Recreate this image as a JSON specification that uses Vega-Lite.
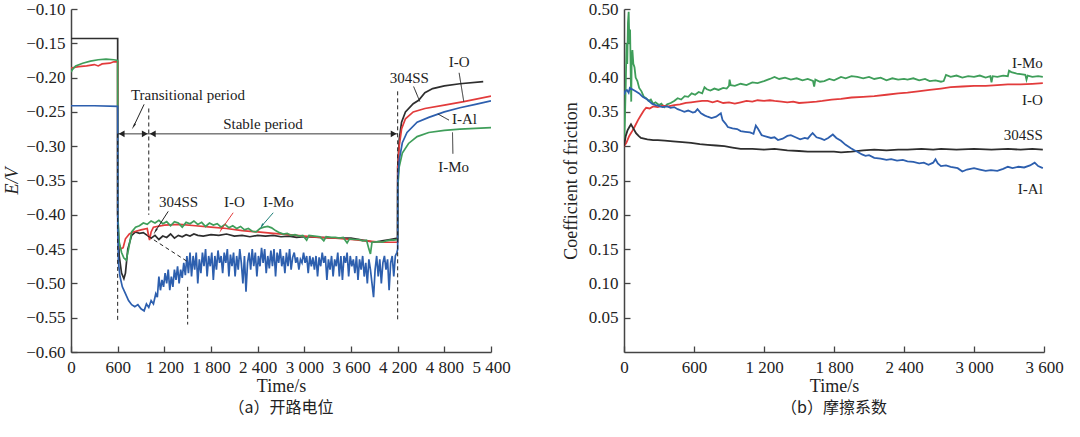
{
  "$schema": "https://vega.github.io/schema/vega-lite/v6.json",
  "padding": {"left": 3, "top": 0, "right": 0, "bottom": 20},
  "background": "white",
  "bounds": "flush",
  "spacing": 133,
  "config": {
    "view": {"stroke": null},
    "axis": {
      "grid": false, "domainColor": "#444", "tickColor": "#444", "domainWidth": 1.5, "tickWidth": 1.3,
      "labelFont": "Liberation Serif", "titleFont": "Liberation Serif", "labelFontSize": 17, "titleFontSize": 18,
      "labelColor": "#222", "titleColor": "#222", "titleFontWeight": "normal", "tickSize": -6,
      "labelFlush": false, "labelOverlap": false, "labelBound": false
    },
    "axisX": {"labelPadding": 13, "titlePadding": 2},
    "axisY": {"labelPadding": 12},
    "title": {"font": "Noto Sans CJK SC", "fontSize": 16, "fontWeight": "normal", "color": "#222", "orient": "bottom", "offset": 5},
    "text": {"font": "Liberation Serif", "fontSize": 15, "color": "#222"}
  },
  "datasets": {
    "ocp": [
      {"t": 0, "v": -0.143, "s": "304SS"}, {"t": 600, "v": -0.143, "s": "304SS"}, {"t": 601, "v": -0.40, "s": "304SS"},
      {"t": 620, "v": -0.46, "s": "304SS"}, {"t": 650, "v": -0.485, "s": "304SS"}, {"t": 680, "v": -0.493, "s": "304SS"},
      {"t": 700, "v": -0.485, "s": "304SS"}, {"t": 730, "v": -0.45, "s": "304SS"}, {"t": 780, "v": -0.43, "s": "304SS"},
      {"t": 830, "v": -0.425, "s": "304SS"}, {"t": 880, "v": -0.427, "s": "304SS"}, {"t": 930, "v": -0.426, "s": "304SS"},
      {"t": 980, "v": -0.43, "s": "304SS"}, {"t": 1030, "v": -0.434, "s": "304SS"}, {"t": 1080, "v": -0.43, "s": "304SS"},
      {"t": 1130, "v": -0.436, "s": "304SS"}, {"t": 1180, "v": -0.431, "s": "304SS"}, {"t": 1230, "v": -0.433, "s": "304SS"},
      {"t": 1280, "v": -0.428, "s": "304SS"}, {"t": 1330, "v": -0.434, "s": "304SS"}, {"t": 1380, "v": -0.43, "s": "304SS"},
      {"t": 1430, "v": -0.432, "s": "304SS"}, {"t": 1480, "v": -0.429, "s": "304SS"}, {"t": 1530, "v": -0.431, "s": "304SS"},
      {"t": 1580, "v": -0.428, "s": "304SS"}, {"t": 1630, "v": -0.43, "s": "304SS"}, {"t": 1700, "v": -0.431, "s": "304SS"},
      {"t": 1800, "v": -0.429, "s": "304SS"}, {"t": 1900, "v": -0.43, "s": "304SS"}, {"t": 2000, "v": -0.428, "s": "304SS"},
      {"t": 2100, "v": -0.431, "s": "304SS"}, {"t": 2200, "v": -0.43, "s": "304SS"}, {"t": 2300, "v": -0.432, "s": "304SS"},
      {"t": 2400, "v": -0.43, "s": "304SS"}, {"t": 2500, "v": -0.431, "s": "304SS"}, {"t": 2600, "v": -0.43, "s": "304SS"},
      {"t": 2700, "v": -0.432, "s": "304SS"}, {"t": 2800, "v": -0.431, "s": "304SS"}, {"t": 2900, "v": -0.433, "s": "304SS"},
      {"t": 3000, "v": -0.432, "s": "304SS"}, {"t": 3200, "v": -0.433, "s": "304SS"}, {"t": 3400, "v": -0.434, "s": "304SS"},
      {"t": 3600, "v": -0.434, "s": "304SS"}, {"t": 3800, "v": -0.438, "s": "304SS"}, {"t": 3900, "v": -0.44, "s": "304SS"},
      {"t": 4000, "v": -0.438, "s": "304SS"}, {"t": 4100, "v": -0.436, "s": "304SS"}, {"t": 4200, "v": -0.434, "s": "304SS"},
      {"t": 4201, "v": -0.33, "s": "304SS"}, {"t": 4220, "v": -0.29, "s": "304SS"}, {"t": 4250, "v": -0.265, "s": "304SS"},
      {"t": 4300, "v": -0.25, "s": "304SS"}, {"t": 4400, "v": -0.238, "s": "304SS"}, {"t": 4470, "v": -0.233, "s": "304SS"},
      {"t": 4550, "v": -0.222, "s": "304SS"}, {"t": 4650, "v": -0.216, "s": "304SS"}, {"t": 4800, "v": -0.212, "s": "304SS"},
      {"t": 5000, "v": -0.209, "s": "304SS"}, {"t": 5300, "v": -0.206, "s": "304SS"},

      {"t": 0, "v": -0.186, "s": "I-O"}, {"t": 100, "v": -0.184, "s": "I-O"}, {"t": 200, "v": -0.183, "s": "I-O"},
      {"t": 300, "v": -0.181, "s": "I-O"}, {"t": 350, "v": -0.183, "s": "I-O"}, {"t": 400, "v": -0.180, "s": "I-O"},
      {"t": 500, "v": -0.179, "s": "I-O"}, {"t": 550, "v": -0.177, "s": "I-O"}, {"t": 600, "v": -0.177, "s": "I-O"},
      {"t": 601, "v": -0.40, "s": "I-O"}, {"t": 610, "v": -0.44, "s": "I-O"}, {"t": 640, "v": -0.45, "s": "I-O"},
      {"t": 670, "v": -0.448, "s": "I-O"}, {"t": 700, "v": -0.435, "s": "I-O"}, {"t": 750, "v": -0.428, "s": "I-O"},
      {"t": 800, "v": -0.425, "s": "I-O"}, {"t": 900, "v": -0.422, "s": "I-O"}, {"t": 980, "v": -0.42, "s": "I-O"},
      {"t": 1000, "v": -0.432, "s": "I-O"}, {"t": 1010, "v": -0.437, "s": "I-O"}, {"t": 1030, "v": -0.425, "s": "I-O"},
      {"t": 1060, "v": -0.418, "s": "I-O"}, {"t": 1200, "v": -0.415, "s": "I-O"}, {"t": 1400, "v": -0.414, "s": "I-O"},
      {"t": 1600, "v": -0.416, "s": "I-O"}, {"t": 1800, "v": -0.418, "s": "I-O"}, {"t": 2000, "v": -0.42, "s": "I-O"},
      {"t": 2200, "v": -0.423, "s": "I-O"}, {"t": 2400, "v": -0.425, "s": "I-O"}, {"t": 2600, "v": -0.427, "s": "I-O"},
      {"t": 2800, "v": -0.429, "s": "I-O"}, {"t": 3000, "v": -0.431, "s": "I-O"}, {"t": 3200, "v": -0.433, "s": "I-O"},
      {"t": 3400, "v": -0.434, "s": "I-O"}, {"t": 3600, "v": -0.436, "s": "I-O"}, {"t": 3800, "v": -0.438, "s": "I-O"},
      {"t": 4000, "v": -0.44, "s": "I-O"}, {"t": 4200, "v": -0.44, "s": "I-O"}, {"t": 4201, "v": -0.33, "s": "I-O"},
      {"t": 4220, "v": -0.30, "s": "I-O"}, {"t": 4250, "v": -0.275, "s": "I-O"}, {"t": 4300, "v": -0.26, "s": "I-O"},
      {"t": 4400, "v": -0.25, "s": "I-O"}, {"t": 4550, "v": -0.245, "s": "I-O"}, {"t": 4800, "v": -0.24, "s": "I-O"},
      {"t": 5050, "v": -0.235, "s": "I-O"}, {"t": 5400, "v": -0.227, "s": "I-O"},

      {"t": 0, "v": -0.192, "s": "I-Mo"}, {"t": 20, "v": -0.188, "s": "I-Mo"}, {"t": 60, "v": -0.183, "s": "I-Mo"},
      {"t": 150, "v": -0.179, "s": "I-Mo"}, {"t": 250, "v": -0.176, "s": "I-Mo"}, {"t": 350, "v": -0.174, "s": "I-Mo"},
      {"t": 450, "v": -0.173, "s": "I-Mo"}, {"t": 550, "v": -0.174, "s": "I-Mo"}, {"t": 600, "v": -0.175, "s": "I-Mo"},
      {"t": 601, "v": -0.40, "s": "I-Mo"}, {"t": 620, "v": -0.44, "s": "I-Mo"}, {"t": 650, "v": -0.455, "s": "I-Mo"},
      {"t": 680, "v": -0.463, "s": "I-Mo"}, {"t": 710, "v": -0.466, "s": "I-Mo"}, {"t": 740, "v": -0.45, "s": "I-Mo"},
      {"t": 780, "v": -0.425, "s": "I-Mo"}, {"t": 830, "v": -0.418, "s": "I-Mo"}, {"t": 880, "v": -0.416, "s": "I-Mo"},
      {"t": 930, "v": -0.412, "s": "I-Mo"}, {"t": 980, "v": -0.414, "s": "I-Mo"}, {"t": 1030, "v": -0.409, "s": "I-Mo"},
      {"t": 1080, "v": -0.412, "s": "I-Mo"}, {"t": 1130, "v": -0.408, "s": "I-Mo"}, {"t": 1180, "v": -0.413, "s": "I-Mo"},
      {"t": 1230, "v": -0.41, "s": "I-Mo"}, {"t": 1280, "v": -0.416, "s": "I-Mo"}, {"t": 1330, "v": -0.41, "s": "I-Mo"},
      {"t": 1380, "v": -0.412, "s": "I-Mo"}, {"t": 1430, "v": -0.418, "s": "I-Mo"}, {"t": 1480, "v": -0.411, "s": "I-Mo"},
      {"t": 1530, "v": -0.413, "s": "I-Mo"}, {"t": 1580, "v": -0.409, "s": "I-Mo"}, {"t": 1630, "v": -0.414, "s": "I-Mo"},
      {"t": 1680, "v": -0.411, "s": "I-Mo"}, {"t": 1730, "v": -0.417, "s": "I-Mo"}, {"t": 1780, "v": -0.412, "s": "I-Mo"},
      {"t": 1830, "v": -0.415, "s": "I-Mo"}, {"t": 1880, "v": -0.413, "s": "I-Mo"}, {"t": 1930, "v": -0.418, "s": "I-Mo"},
      {"t": 1980, "v": -0.414, "s": "I-Mo"}, {"t": 2030, "v": -0.419, "s": "I-Mo"}, {"t": 2080, "v": -0.416, "s": "I-Mo"},
      {"t": 2130, "v": -0.42, "s": "I-Mo"}, {"t": 2180, "v": -0.417, "s": "I-Mo"}, {"t": 2230, "v": -0.422, "s": "I-Mo"},
      {"t": 2280, "v": -0.42, "s": "I-Mo"}, {"t": 2330, "v": -0.424, "s": "I-Mo"}, {"t": 2380, "v": -0.425, "s": "I-Mo"},
      {"t": 2430, "v": -0.42, "s": "I-Mo"}, {"t": 2480, "v": -0.418, "s": "I-Mo"}, {"t": 2530, "v": -0.417, "s": "I-Mo"},
      {"t": 2580, "v": -0.419, "s": "I-Mo"}, {"t": 2630, "v": -0.423, "s": "I-Mo"}, {"t": 2680, "v": -0.426, "s": "I-Mo"},
      {"t": 2730, "v": -0.428, "s": "I-Mo"}, {"t": 2780, "v": -0.427, "s": "I-Mo"}, {"t": 2830, "v": -0.43, "s": "I-Mo"},
      {"t": 2880, "v": -0.429, "s": "I-Mo"}, {"t": 2930, "v": -0.431, "s": "I-Mo"}, {"t": 2980, "v": -0.43, "s": "I-Mo"},
      {"t": 3030, "v": -0.437, "s": "I-Mo"}, {"t": 3060, "v": -0.43, "s": "I-Mo"}, {"t": 3130, "v": -0.431, "s": "I-Mo"},
      {"t": 3200, "v": -0.432, "s": "I-Mo"}, {"t": 3250, "v": -0.438, "s": "I-Mo"}, {"t": 3280, "v": -0.432, "s": "I-Mo"},
      {"t": 3350, "v": -0.433, "s": "I-Mo"}, {"t": 3400, "v": -0.433, "s": "I-Mo"}, {"t": 3450, "v": -0.434, "s": "I-Mo"},
      {"t": 3500, "v": -0.433, "s": "I-Mo"}, {"t": 3550, "v": -0.441, "s": "I-Mo"}, {"t": 3580, "v": -0.435, "s": "I-Mo"},
      {"t": 3650, "v": -0.436, "s": "I-Mo"}, {"t": 3700, "v": -0.436, "s": "I-Mo"}, {"t": 3750, "v": -0.438, "s": "I-Mo"},
      {"t": 3800, "v": -0.437, "s": "I-Mo"}, {"t": 3830, "v": -0.45, "s": "I-Mo"}, {"t": 3850, "v": -0.457, "s": "I-Mo"},
      {"t": 3870, "v": -0.44, "s": "I-Mo"}, {"t": 3950, "v": -0.439, "s": "I-Mo"}, {"t": 4000, "v": -0.44, "s": "I-Mo"},
      {"t": 4050, "v": -0.438, "s": "I-Mo"}, {"t": 4100, "v": -0.437, "s": "I-Mo"}, {"t": 4150, "v": -0.437, "s": "I-Mo"},
      {"t": 4200, "v": -0.436, "s": "I-Mo"}, {"t": 4201, "v": -0.36, "s": "I-Mo"}, {"t": 4220, "v": -0.33, "s": "I-Mo"},
      {"t": 4260, "v": -0.31, "s": "I-Mo"}, {"t": 4340, "v": -0.296, "s": "I-Mo"}, {"t": 4450, "v": -0.286, "s": "I-Mo"},
      {"t": 4600, "v": -0.28, "s": "I-Mo"}, {"t": 4800, "v": -0.277, "s": "I-Mo"}, {"t": 5000, "v": -0.275, "s": "I-Mo"},
      {"t": 5400, "v": -0.273, "s": "I-Mo"},

      {"t": 0, "v": -0.241, "s": "I-Al"}, {"t": 300, "v": -0.241, "s": "I-Al"}, {"t": 600, "v": -0.242, "s": "I-Al"},
      {"t": 601, "v": -0.42, "s": "I-Al"}, {"t": 610, "v": -0.47, "s": "I-Al"}, {"t": 630, "v": -0.49, "s": "I-Al"},
      {"t": 660, "v": -0.505, "s": "I-Al"}, {"t": 700, "v": -0.515, "s": "I-Al"}, {"t": 740, "v": -0.525, "s": "I-Al"},
      {"t": 780, "v": -0.531, "s": "I-Al"}, {"t": 820, "v": -0.534, "s": "I-Al"}, {"t": 860, "v": -0.531, "s": "I-Al"},
      {"t": 900, "v": -0.537, "s": "I-Al"}, {"t": 940, "v": -0.54, "s": "I-Al"}, {"t": 970, "v": -0.53, "s": "I-Al"},
      {"t": 1000, "v": -0.535, "s": "I-Al"}, {"t": 1030, "v": -0.525, "s": "I-Al"}, {"t": 1060, "v": -0.53, "s": "I-Al"},
      {"t": 1090, "v": -0.515, "s": "I-Al"}, {"t": 1110, "v": -0.52, "s": "I-Al"}, {"t": 1130, "v": -0.49, "s": "I-Al"},
      {"t": 1150, "v": -0.51, "s": "I-Al"}, {"t": 1170, "v": -0.495, "s": "I-Al"}, {"t": 1190, "v": -0.505, "s": "I-Al"},
      {"t": 1210, "v": -0.485, "s": "I-Al"}, {"t": 1230, "v": -0.50, "s": "I-Al"}, {"t": 1250, "v": -0.48, "s": "I-Al"},
      {"t": 1270, "v": -0.51, "s": "I-Al"}, {"t": 1290, "v": -0.49, "s": "I-Al"}, {"t": 1310, "v": -0.505, "s": "I-Al"},
      {"t": 1330, "v": -0.48, "s": "I-Al"}, {"t": 1350, "v": -0.495, "s": "I-Al"}, {"t": 1370, "v": -0.475, "s": "I-Al"},
      {"t": 1390, "v": -0.50, "s": "I-Al"}, {"t": 1410, "v": -0.48, "s": "I-Al"}, {"t": 1430, "v": -0.492, "s": "I-Al"},
      {"t": 1450, "v": -0.47, "s": "I-Al"}, {"t": 1470, "v": -0.488, "s": "I-Al"}, {"t": 1490, "v": -0.46, "s": "I-Al"},
      {"t": 1510, "v": -0.485, "s": "I-Al"}, {"t": 1530, "v": -0.455, "s": "I-Al"}, {"t": 1550, "v": -0.49, "s": "I-Al"},
      {"t": 1570, "v": -0.46, "s": "I-Al"}, {"t": 1590, "v": -0.48, "s": "I-Al"}, {"t": 1610, "v": -0.455, "s": "I-Al"},
      {"t": 1630, "v": -0.50, "s": "I-Al"}, {"t": 1650, "v": -0.465, "s": "I-Al"}, {"t": 1670, "v": -0.485, "s": "I-Al"},
      {"t": 1690, "v": -0.455, "s": "I-Al"}, {"t": 1710, "v": -0.475, "s": "I-Al"}, {"t": 1730, "v": -0.45, "s": "I-Al"},
      {"t": 1750, "v": -0.49, "s": "I-Al"}, {"t": 1770, "v": -0.46, "s": "I-Al"}, {"t": 1790, "v": -0.475, "s": "I-Al"},
      {"t": 1810, "v": -0.455, "s": "I-Al"}, {"t": 1830, "v": -0.495, "s": "I-Al"}, {"t": 1850, "v": -0.46, "s": "I-Al"},
      {"t": 1870, "v": -0.48, "s": "I-Al"}, {"t": 1890, "v": -0.452, "s": "I-Al"}, {"t": 1910, "v": -0.47, "s": "I-Al"},
      {"t": 1930, "v": -0.46, "s": "I-Al"}, {"t": 1950, "v": -0.485, "s": "I-Al"}, {"t": 1970, "v": -0.455, "s": "I-Al"},
      {"t": 1990, "v": -0.47, "s": "I-Al"}, {"t": 2010, "v": -0.45, "s": "I-Al"}, {"t": 2030, "v": -0.49, "s": "I-Al"},
      {"t": 2050, "v": -0.458, "s": "I-Al"}, {"t": 2070, "v": -0.475, "s": "I-Al"}, {"t": 2090, "v": -0.455, "s": "I-Al"},
      {"t": 2110, "v": -0.49, "s": "I-Al"}, {"t": 2130, "v": -0.46, "s": "I-Al"}, {"t": 2150, "v": -0.48, "s": "I-Al"},
      {"t": 2170, "v": -0.45, "s": "I-Al"}, {"t": 2190, "v": -0.47, "s": "I-Al"}, {"t": 2210, "v": -0.50, "s": "I-Al"},
      {"t": 2230, "v": -0.46, "s": "I-Al"}, {"t": 2250, "v": -0.512, "s": "I-Al"}, {"t": 2270, "v": -0.47, "s": "I-Al"},
      {"t": 2290, "v": -0.455, "s": "I-Al"}, {"t": 2310, "v": -0.48, "s": "I-Al"}, {"t": 2330, "v": -0.45, "s": "I-Al"},
      {"t": 2350, "v": -0.475, "s": "I-Al"}, {"t": 2370, "v": -0.455, "s": "I-Al"}, {"t": 2390, "v": -0.49, "s": "I-Al"},
      {"t": 2410, "v": -0.46, "s": "I-Al"}, {"t": 2430, "v": -0.475, "s": "I-Al"}, {"t": 2450, "v": -0.448, "s": "I-Al"},
      {"t": 2470, "v": -0.47, "s": "I-Al"}, {"t": 2490, "v": -0.45, "s": "I-Al"}, {"t": 2510, "v": -0.485, "s": "I-Al"},
      {"t": 2530, "v": -0.46, "s": "I-Al"}, {"t": 2550, "v": -0.478, "s": "I-Al"}, {"t": 2570, "v": -0.452, "s": "I-Al"},
      {"t": 2590, "v": -0.475, "s": "I-Al"}, {"t": 2610, "v": -0.45, "s": "I-Al"}, {"t": 2630, "v": -0.49, "s": "I-Al"},
      {"t": 2650, "v": -0.455, "s": "I-Al"}, {"t": 2670, "v": -0.47, "s": "I-Al"}, {"t": 2690, "v": -0.45, "s": "I-Al"},
      {"t": 2710, "v": -0.475, "s": "I-Al"}, {"t": 2730, "v": -0.46, "s": "I-Al"}, {"t": 2750, "v": -0.485, "s": "I-Al"},
      {"t": 2770, "v": -0.455, "s": "I-Al"}, {"t": 2790, "v": -0.475, "s": "I-Al"}, {"t": 2810, "v": -0.45, "s": "I-Al"},
      {"t": 2830, "v": -0.48, "s": "I-Al"}, {"t": 2850, "v": -0.462, "s": "I-Al"}, {"t": 2870, "v": -0.455, "s": "I-Al"},
      {"t": 2890, "v": -0.47, "s": "I-Al"}, {"t": 2910, "v": -0.462, "s": "I-Al"}, {"t": 2930, "v": -0.48, "s": "I-Al"},
      {"t": 2950, "v": -0.465, "s": "I-Al"}, {"t": 2970, "v": -0.47, "s": "I-Al"}, {"t": 2990, "v": -0.455, "s": "I-Al"},
      {"t": 3010, "v": -0.47, "s": "I-Al"}, {"t": 3030, "v": -0.46, "s": "I-Al"}, {"t": 3050, "v": -0.485, "s": "I-Al"},
      {"t": 3070, "v": -0.46, "s": "I-Al"}, {"t": 3090, "v": -0.475, "s": "I-Al"}, {"t": 3110, "v": -0.462, "s": "I-Al"},
      {"t": 3130, "v": -0.48, "s": "I-Al"}, {"t": 3150, "v": -0.46, "s": "I-Al"}, {"t": 3170, "v": -0.49, "s": "I-Al"},
      {"t": 3190, "v": -0.462, "s": "I-Al"}, {"t": 3210, "v": -0.475, "s": "I-Al"}, {"t": 3230, "v": -0.455, "s": "I-Al"},
      {"t": 3250, "v": -0.47, "s": "I-Al"}, {"t": 3270, "v": -0.46, "s": "I-Al"}, {"t": 3290, "v": -0.495, "s": "I-Al"},
      {"t": 3310, "v": -0.465, "s": "I-Al"}, {"t": 3330, "v": -0.48, "s": "I-Al"}, {"t": 3350, "v": -0.46, "s": "I-Al"},
      {"t": 3370, "v": -0.49, "s": "I-Al"}, {"t": 3390, "v": -0.465, "s": "I-Al"}, {"t": 3410, "v": -0.475, "s": "I-Al"},
      {"t": 3430, "v": -0.455, "s": "I-Al"}, {"t": 3450, "v": -0.49, "s": "I-Al"}, {"t": 3470, "v": -0.46, "s": "I-Al"},
      {"t": 3490, "v": -0.495, "s": "I-Al"}, {"t": 3510, "v": -0.46, "s": "I-Al"}, {"t": 3530, "v": -0.47, "s": "I-Al"},
      {"t": 3550, "v": -0.455, "s": "I-Al"}, {"t": 3570, "v": -0.49, "s": "I-Al"}, {"t": 3590, "v": -0.46, "s": "I-Al"},
      {"t": 3610, "v": -0.475, "s": "I-Al"}, {"t": 3630, "v": -0.465, "s": "I-Al"}, {"t": 3650, "v": -0.485, "s": "I-Al"},
      {"t": 3670, "v": -0.46, "s": "I-Al"}, {"t": 3690, "v": -0.495, "s": "I-Al"}, {"t": 3710, "v": -0.465, "s": "I-Al"},
      {"t": 3730, "v": -0.48, "s": "I-Al"}, {"t": 3750, "v": -0.46, "s": "I-Al"}, {"t": 3770, "v": -0.49, "s": "I-Al"},
      {"t": 3790, "v": -0.47, "s": "I-Al"}, {"t": 3810, "v": -0.50, "s": "I-Al"}, {"t": 3830, "v": -0.465, "s": "I-Al"},
      {"t": 3850, "v": -0.48, "s": "I-Al"}, {"t": 3870, "v": -0.50, "s": "I-Al"}, {"t": 3890, "v": -0.52, "s": "I-Al"},
      {"t": 3910, "v": -0.48, "s": "I-Al"}, {"t": 3930, "v": -0.46, "s": "I-Al"}, {"t": 3950, "v": -0.49, "s": "I-Al"},
      {"t": 3970, "v": -0.465, "s": "I-Al"}, {"t": 3990, "v": -0.50, "s": "I-Al"}, {"t": 4010, "v": -0.47, "s": "I-Al"},
      {"t": 4030, "v": -0.46, "s": "I-Al"}, {"t": 4050, "v": -0.48, "s": "I-Al"}, {"t": 4070, "v": -0.465, "s": "I-Al"},
      {"t": 4090, "v": -0.51, "s": "I-Al"}, {"t": 4110, "v": -0.47, "s": "I-Al"}, {"t": 4130, "v": -0.46, "s": "I-Al"},
      {"t": 4150, "v": -0.49, "s": "I-Al"}, {"t": 4170, "v": -0.46, "s": "I-Al"}, {"t": 4190, "v": -0.455, "s": "I-Al"},
      {"t": 4200, "v": -0.45, "s": "I-Al"}, {"t": 4201, "v": -0.35, "s": "I-Al"}, {"t": 4220, "v": -0.32, "s": "I-Al"},
      {"t": 4260, "v": -0.295, "s": "I-Al"}, {"t": 4320, "v": -0.28, "s": "I-Al"}, {"t": 4450, "v": -0.265, "s": "I-Al"},
      {"t": 4600, "v": -0.258, "s": "I-Al"}, {"t": 4800, "v": -0.25, "s": "I-Al"}, {"t": 5000, "v": -0.244, "s": "I-Al"},
      {"t": 5200, "v": -0.239, "s": "I-Al"}, {"t": 5400, "v": -0.234, "s": "I-Al"}
    ],
    "ocpSegs": [
      {"t": 600, "v": -0.282, "t2": 600, "v2": -0.555, "kind": "guide"},
      {"t": 1000, "v": -0.245, "t2": 1000, "v2": -0.40, "kind": "guide"},
      {"t": 1500, "v": -0.505, "t2": 1500, "v2": -0.56, "kind": "guide"},
      {"t": 4200, "v": -0.22, "t2": 4200, "v2": -0.553, "kind": "guide"},
      {"t": 990, "v": -0.431, "t2": 1495, "v2": -0.468, "kind": "guide"},
      {"t": 600, "v": -0.282, "t2": 1000, "v2": -0.282, "kind": "span"},
      {"t": 1000, "v": -0.282, "t2": 4200, "v2": -0.282, "kind": "span"},
      {"t": 4405, "v": -0.213, "t2": 4485, "v2": -0.235, "kind": "span"},
      {"t": 4990, "v": -0.193, "t2": 5050, "v2": -0.235, "kind": "span"},
      {"t": 4860, "v": -0.262, "t2": 4717, "v2": -0.253, "kind": "span"},
      {"t": 4905, "v": -0.28, "t2": 4910, "v2": -0.311, "kind": "span"}
    ],
    "ocpEnds": [
      {"t": 600, "v": -0.282, "dir": "left"},
      {"t": 1000, "v": -0.282, "dir": "right"},
      {"t": 1000, "v": -0.282, "dir": "left"},
      {"t": 4200, "v": -0.282, "dir": "right"}
    ],
    "ocpLeads": [
      {"t": 810, "v": -0.270, "t2": 940, "v2": -0.239, "s": "period"},
      {"t": 1090, "v": -0.423, "t2": 1250, "v2": -0.395, "s": "304SS"},
      {"t": 1935, "v": -0.421, "t2": 2085, "v2": -0.397, "s": "I-O"},
      {"t": 2455, "v": -0.416, "t2": 2600, "v2": -0.397, "s": "I-Mo"}
    ],
    "ocpNotes": [
      {"t": 1504, "v": -0.225, "label": "Transitional period"},
      {"t": 2468, "v": -0.268, "label": "Stable period"},
      {"t": 1382, "v": -0.381, "label": "304SS"},
      {"t": 2100, "v": -0.381, "label": "I-O"},
      {"t": 2667, "v": -0.381, "label": "I-Mo"},
      {"t": 4350, "v": -0.200, "label": "304SS"},
      {"t": 4990, "v": -0.177, "label": "I-O"},
      {"t": 5058, "v": -0.261, "label": "I-Al"},
      {"t": 4920, "v": -0.331, "label": "I-Mo"}
    ],
    "cof": [
      {"t": 0, "v": 0.300, "s": "I-Mo"}, {"t": 8, "v": 0.34, "s": "I-Mo"}, {"t": 15, "v": 0.39, "s": "I-Mo"},
      {"t": 22, "v": 0.45, "s": "I-Mo"}, {"t": 28, "v": 0.42, "s": "I-Mo"}, {"t": 34, "v": 0.48, "s": "I-Mo"},
      {"t": 40, "v": 0.496, "s": "I-Mo"}, {"t": 46, "v": 0.45, "s": "I-Mo"}, {"t": 52, "v": 0.47, "s": "I-Mo"},
      {"t": 58, "v": 0.40, "s": "I-Mo"}, {"t": 62, "v": 0.365, "s": "I-Mo"}, {"t": 66, "v": 0.43, "s": "I-Mo"},
      {"t": 72, "v": 0.44, "s": "I-Mo"}, {"t": 80, "v": 0.42, "s": "I-Mo"}, {"t": 90, "v": 0.415, "s": "I-Mo"},
      {"t": 100, "v": 0.40, "s": "I-Mo"}, {"t": 115, "v": 0.395, "s": "I-Mo"}, {"t": 130, "v": 0.385, "s": "I-Mo"},
      {"t": 150, "v": 0.38, "s": "I-Mo"}, {"t": 170, "v": 0.372, "s": "I-Mo"}, {"t": 190, "v": 0.37, "s": "I-Mo"},
      {"t": 210, "v": 0.366, "s": "I-Mo"}, {"t": 230, "v": 0.368, "s": "I-Mo"}, {"t": 250, "v": 0.362, "s": "I-Mo"},
      {"t": 270, "v": 0.364, "s": "I-Mo"}, {"t": 300, "v": 0.36, "s": "I-Mo"}, {"t": 320, "v": 0.362, "s": "I-Mo"},
      {"t": 345, "v": 0.357, "s": "I-Mo"}, {"t": 370, "v": 0.361, "s": "I-Mo"}, {"t": 400, "v": 0.363, "s": "I-Mo"},
      {"t": 430, "v": 0.366, "s": "I-Mo"}, {"t": 460, "v": 0.37, "s": "I-Mo"}, {"t": 490, "v": 0.368, "s": "I-Mo"},
      {"t": 520, "v": 0.373, "s": "I-Mo"}, {"t": 550, "v": 0.372, "s": "I-Mo"}, {"t": 580, "v": 0.377, "s": "I-Mo"},
      {"t": 610, "v": 0.375, "s": "I-Mo"}, {"t": 640, "v": 0.379, "s": "I-Mo"}, {"t": 670, "v": 0.377, "s": "I-Mo"},
      {"t": 690, "v": 0.386, "s": "I-Mo"}, {"t": 710, "v": 0.383, "s": "I-Mo"}, {"t": 740, "v": 0.381, "s": "I-Mo"},
      {"t": 775, "v": 0.384, "s": "I-Mo"}, {"t": 810, "v": 0.382, "s": "I-Mo"}, {"t": 850, "v": 0.385, "s": "I-Mo"},
      {"t": 880, "v": 0.384, "s": "I-Mo"}, {"t": 900, "v": 0.388, "s": "I-Mo"}, {"t": 905, "v": 0.397, "s": "I-Mo"},
      {"t": 915, "v": 0.389, "s": "I-Mo"}, {"t": 950, "v": 0.388, "s": "I-Mo"}, {"t": 1000, "v": 0.391, "s": "I-Mo"},
      {"t": 1050, "v": 0.389, "s": "I-Mo"}, {"t": 1100, "v": 0.393, "s": "I-Mo"}, {"t": 1145, "v": 0.392, "s": "I-Mo"},
      {"t": 1200, "v": 0.395, "s": "I-Mo"}, {"t": 1250, "v": 0.398, "s": "I-Mo"}, {"t": 1290, "v": 0.401, "s": "I-Mo"},
      {"t": 1330, "v": 0.398, "s": "I-Mo"}, {"t": 1380, "v": 0.400, "s": "I-Mo"}, {"t": 1430, "v": 0.397, "s": "I-Mo"},
      {"t": 1480, "v": 0.399, "s": "I-Mo"}, {"t": 1530, "v": 0.396, "s": "I-Mo"}, {"t": 1575, "v": 0.398, "s": "I-Mo"},
      {"t": 1620, "v": 0.395, "s": "I-Mo"}, {"t": 1630, "v": 0.387, "s": "I-Mo"}, {"t": 1640, "v": 0.397, "s": "I-Mo"},
      {"t": 1680, "v": 0.394, "s": "I-Mo"}, {"t": 1717, "v": 0.395, "s": "I-Mo"}, {"t": 1760, "v": 0.398, "s": "I-Mo"},
      {"t": 1800, "v": 0.396, "s": "I-Mo"}, {"t": 1860, "v": 0.401, "s": "I-Mo"}, {"t": 1900, "v": 0.399, "s": "I-Mo"},
      {"t": 1950, "v": 0.402, "s": "I-Mo"}, {"t": 2000, "v": 0.401, "s": "I-Mo"}, {"t": 2050, "v": 0.399, "s": "I-Mo"},
      {"t": 2100, "v": 0.401, "s": "I-Mo"}, {"t": 2145, "v": 0.398, "s": "I-Mo"}, {"t": 2200, "v": 0.400, "s": "I-Mo"},
      {"t": 2250, "v": 0.396, "s": "I-Mo"}, {"t": 2300, "v": 0.399, "s": "I-Mo"}, {"t": 2350, "v": 0.397, "s": "I-Mo"},
      {"t": 2400, "v": 0.398, "s": "I-Mo"}, {"t": 2430, "v": 0.397, "s": "I-Mo"}, {"t": 2480, "v": 0.399, "s": "I-Mo"},
      {"t": 2530, "v": 0.396, "s": "I-Mo"}, {"t": 2580, "v": 0.398, "s": "I-Mo"}, {"t": 2620, "v": 0.395, "s": "I-Mo"},
      {"t": 2670, "v": 0.396, "s": "I-Mo"}, {"t": 2717, "v": 0.394, "s": "I-Mo"}, {"t": 2740, "v": 0.395, "s": "I-Mo"},
      {"t": 2760, "v": 0.404, "s": "I-Mo"}, {"t": 2800, "v": 0.401, "s": "I-Mo"}, {"t": 2850, "v": 0.403, "s": "I-Mo"},
      {"t": 2900, "v": 0.400, "s": "I-Mo"}, {"t": 2950, "v": 0.402, "s": "I-Mo"}, {"t": 3000, "v": 0.401, "s": "I-Mo"},
      {"t": 3050, "v": 0.403, "s": "I-Mo"}, {"t": 3100, "v": 0.400, "s": "I-Mo"}, {"t": 3140, "v": 0.402, "s": "I-Mo"},
      {"t": 3150, "v": 0.393, "s": "I-Mo"}, {"t": 3160, "v": 0.402, "s": "I-Mo"}, {"t": 3200, "v": 0.401, "s": "I-Mo"},
      {"t": 3250, "v": 0.403, "s": "I-Mo"}, {"t": 3290, "v": 0.402, "s": "I-Mo"}, {"t": 3300, "v": 0.410, "s": "I-Mo"},
      {"t": 3320, "v": 0.408, "s": "I-Mo"}, {"t": 3360, "v": 0.406, "s": "I-Mo"}, {"t": 3400, "v": 0.405, "s": "I-Mo"},
      {"t": 3440, "v": 0.404, "s": "I-Mo"}, {"t": 3450, "v": 0.397, "s": "I-Mo"}, {"t": 3460, "v": 0.403, "s": "I-Mo"},
      {"t": 3500, "v": 0.401, "s": "I-Mo"}, {"t": 3550, "v": 0.402, "s": "I-Mo"}, {"t": 3590, "v": 0.401, "s": "I-Mo"},

      {"t": 0, "v": 0.300, "s": "I-O"}, {"t": 20, "v": 0.305, "s": "I-O"}, {"t": 45, "v": 0.315, "s": "I-O"},
      {"t": 70, "v": 0.322, "s": "I-O"}, {"t": 90, "v": 0.328, "s": "I-O"}, {"t": 120, "v": 0.338, "s": "I-O"},
      {"t": 145, "v": 0.345, "s": "I-O"}, {"t": 170, "v": 0.352, "s": "I-O"}, {"t": 190, "v": 0.356, "s": "I-O"},
      {"t": 220, "v": 0.355, "s": "I-O"}, {"t": 250, "v": 0.358, "s": "I-O"}, {"t": 290, "v": 0.357, "s": "I-O"},
      {"t": 330, "v": 0.359, "s": "I-O"}, {"t": 380, "v": 0.358, "s": "I-O"}, {"t": 430, "v": 0.360, "s": "I-O"},
      {"t": 480, "v": 0.361, "s": "I-O"}, {"t": 530, "v": 0.363, "s": "I-O"}, {"t": 575, "v": 0.364, "s": "I-O"},
      {"t": 620, "v": 0.365, "s": "I-O"}, {"t": 670, "v": 0.366, "s": "I-O"}, {"t": 717, "v": 0.366, "s": "I-O"},
      {"t": 760, "v": 0.364, "s": "I-O"}, {"t": 800, "v": 0.366, "s": "I-O"}, {"t": 850, "v": 0.363, "s": "I-O"},
      {"t": 900, "v": 0.364, "s": "I-O"}, {"t": 950, "v": 0.362, "s": "I-O"}, {"t": 1000, "v": 0.364, "s": "I-O"},
      {"t": 1050, "v": 0.366, "s": "I-O"}, {"t": 1100, "v": 0.365, "s": "I-O"}, {"t": 1145, "v": 0.367, "s": "I-O"},
      {"t": 1200, "v": 0.366, "s": "I-O"}, {"t": 1250, "v": 0.367, "s": "I-O"}, {"t": 1290, "v": 0.366, "s": "I-O"},
      {"t": 1350, "v": 0.365, "s": "I-O"}, {"t": 1400, "v": 0.364, "s": "I-O"}, {"t": 1450, "v": 0.365, "s": "I-O"},
      {"t": 1500, "v": 0.363, "s": "I-O"}, {"t": 1575, "v": 0.364, "s": "I-O"}, {"t": 1650, "v": 0.365, "s": "I-O"},
      {"t": 1700, "v": 0.366, "s": "I-O"}, {"t": 1780, "v": 0.368, "s": "I-O"}, {"t": 1860, "v": 0.369, "s": "I-O"},
      {"t": 1950, "v": 0.371, "s": "I-O"}, {"t": 2050, "v": 0.372, "s": "I-O"}, {"t": 2145, "v": 0.373, "s": "I-O"},
      {"t": 2250, "v": 0.375, "s": "I-O"}, {"t": 2350, "v": 0.377, "s": "I-O"}, {"t": 2430, "v": 0.378, "s": "I-O"},
      {"t": 2520, "v": 0.380, "s": "I-O"}, {"t": 2620, "v": 0.382, "s": "I-O"}, {"t": 2717, "v": 0.384, "s": "I-O"},
      {"t": 2800, "v": 0.386, "s": "I-O"}, {"t": 2900, "v": 0.387, "s": "I-O"}, {"t": 3000, "v": 0.388, "s": "I-O"},
      {"t": 3100, "v": 0.388, "s": "I-O"}, {"t": 3200, "v": 0.389, "s": "I-O"}, {"t": 3290, "v": 0.390, "s": "I-O"},
      {"t": 3400, "v": 0.390, "s": "I-O"}, {"t": 3500, "v": 0.391, "s": "I-O"}, {"t": 3590, "v": 0.392, "s": "I-O"},

      {"t": 0, "v": 0.300, "s": "304SS"}, {"t": 15, "v": 0.315, "s": "304SS"}, {"t": 30, "v": 0.323, "s": "304SS"},
      {"t": 46, "v": 0.328, "s": "304SS"}, {"t": 60, "v": 0.332, "s": "304SS"}, {"t": 80, "v": 0.326, "s": "304SS"},
      {"t": 103, "v": 0.319, "s": "304SS"}, {"t": 125, "v": 0.315, "s": "304SS"}, {"t": 145, "v": 0.312, "s": "304SS"},
      {"t": 200, "v": 0.310, "s": "304SS"}, {"t": 250, "v": 0.309, "s": "304SS"}, {"t": 290, "v": 0.309, "s": "304SS"},
      {"t": 350, "v": 0.308, "s": "304SS"}, {"t": 420, "v": 0.307, "s": "304SS"}, {"t": 500, "v": 0.306, "s": "304SS"},
      {"t": 575, "v": 0.305, "s": "304SS"}, {"t": 650, "v": 0.303, "s": "304SS"}, {"t": 717, "v": 0.302, "s": "304SS"},
      {"t": 790, "v": 0.301, "s": "304SS"}, {"t": 860, "v": 0.300, "s": "304SS"}, {"t": 930, "v": 0.298, "s": "304SS"},
      {"t": 1000, "v": 0.296, "s": "304SS"}, {"t": 1100, "v": 0.296, "s": "304SS"}, {"t": 1200, "v": 0.295, "s": "304SS"},
      {"t": 1290, "v": 0.296, "s": "304SS"}, {"t": 1400, "v": 0.294, "s": "304SS"}, {"t": 1500, "v": 0.293, "s": "304SS"},
      {"t": 1575, "v": 0.292, "s": "304SS"}, {"t": 1700, "v": 0.292, "s": "304SS"}, {"t": 1800, "v": 0.292, "s": "304SS"},
      {"t": 1860, "v": 0.291, "s": "304SS"}, {"t": 1950, "v": 0.292, "s": "304SS"}, {"t": 2050, "v": 0.294, "s": "304SS"},
      {"t": 2145, "v": 0.295, "s": "304SS"}, {"t": 2250, "v": 0.294, "s": "304SS"}, {"t": 2350, "v": 0.295, "s": "304SS"},
      {"t": 2430, "v": 0.295, "s": "304SS"}, {"t": 2550, "v": 0.296, "s": "304SS"}, {"t": 2650, "v": 0.295, "s": "304SS"},
      {"t": 2717, "v": 0.296, "s": "304SS"}, {"t": 2850, "v": 0.295, "s": "304SS"}, {"t": 3000, "v": 0.296, "s": "304SS"},
      {"t": 3150, "v": 0.295, "s": "304SS"}, {"t": 3290, "v": 0.296, "s": "304SS"}, {"t": 3400, "v": 0.295, "s": "304SS"},
      {"t": 3500, "v": 0.296, "s": "304SS"}, {"t": 3590, "v": 0.295, "s": "304SS"},

      {"t": 0, "v": 0.375, "s": "I-Al"}, {"t": 10, "v": 0.380, "s": "I-Al"}, {"t": 25, "v": 0.382, "s": "I-Al"},
      {"t": 40, "v": 0.378, "s": "I-Al"}, {"t": 50, "v": 0.385, "s": "I-Al"}, {"t": 70, "v": 0.383, "s": "I-Al"},
      {"t": 100, "v": 0.380, "s": "I-Al"}, {"t": 130, "v": 0.377, "s": "I-Al"}, {"t": 160, "v": 0.372, "s": "I-Al"},
      {"t": 200, "v": 0.368, "s": "I-Al"}, {"t": 240, "v": 0.362, "s": "I-Al"}, {"t": 270, "v": 0.360, "s": "I-Al"},
      {"t": 290, "v": 0.359, "s": "I-Al"}, {"t": 330, "v": 0.357, "s": "I-Al"}, {"t": 370, "v": 0.358, "s": "I-Al"},
      {"t": 400, "v": 0.356, "s": "I-Al"}, {"t": 430, "v": 0.357, "s": "I-Al"}, {"t": 460, "v": 0.354, "s": "I-Al"},
      {"t": 490, "v": 0.352, "s": "I-Al"}, {"t": 517, "v": 0.350, "s": "I-Al"}, {"t": 550, "v": 0.352, "s": "I-Al"},
      {"t": 590, "v": 0.349, "s": "I-Al"}, {"t": 610, "v": 0.350, "s": "I-Al"}, {"t": 630, "v": 0.354, "s": "I-Al"},
      {"t": 660, "v": 0.348, "s": "I-Al"}, {"t": 690, "v": 0.345, "s": "I-Al"}, {"t": 717, "v": 0.343, "s": "I-Al"},
      {"t": 750, "v": 0.341, "s": "I-Al"}, {"t": 790, "v": 0.343, "s": "I-Al"}, {"t": 830, "v": 0.348, "s": "I-Al"},
      {"t": 845, "v": 0.338, "s": "I-Al"}, {"t": 870, "v": 0.333, "s": "I-Al"}, {"t": 890, "v": 0.328, "s": "I-Al"},
      {"t": 930, "v": 0.326, "s": "I-Al"}, {"t": 970, "v": 0.325, "s": "I-Al"}, {"t": 1000, "v": 0.322, "s": "I-Al"},
      {"t": 1040, "v": 0.321, "s": "I-Al"}, {"t": 1080, "v": 0.320, "s": "I-Al"}, {"t": 1110, "v": 0.318, "s": "I-Al"},
      {"t": 1130, "v": 0.330, "s": "I-Al"}, {"t": 1150, "v": 0.325, "s": "I-Al"}, {"t": 1180, "v": 0.316, "s": "I-Al"},
      {"t": 1220, "v": 0.314, "s": "I-Al"}, {"t": 1260, "v": 0.312, "s": "I-Al"}, {"t": 1290, "v": 0.313, "s": "I-Al"},
      {"t": 1320, "v": 0.309, "s": "I-Al"}, {"t": 1360, "v": 0.311, "s": "I-Al"}, {"t": 1400, "v": 0.315, "s": "I-Al"},
      {"t": 1430, "v": 0.316, "s": "I-Al"}, {"t": 1470, "v": 0.313, "s": "I-Al"}, {"t": 1510, "v": 0.310, "s": "I-Al"},
      {"t": 1550, "v": 0.312, "s": "I-Al"}, {"t": 1575, "v": 0.311, "s": "I-Al"}, {"t": 1600, "v": 0.316, "s": "I-Al"},
      {"t": 1617, "v": 0.319, "s": "I-Al"}, {"t": 1650, "v": 0.313, "s": "I-Al"}, {"t": 1690, "v": 0.311, "s": "I-Al"},
      {"t": 1717, "v": 0.309, "s": "I-Al"}, {"t": 1750, "v": 0.312, "s": "I-Al"}, {"t": 1790, "v": 0.317, "s": "I-Al"},
      {"t": 1820, "v": 0.312, "s": "I-Al"}, {"t": 1860, "v": 0.308, "s": "I-Al"}, {"t": 1900, "v": 0.302, "s": "I-Al"},
      {"t": 1945, "v": 0.297, "s": "I-Al"}, {"t": 1975, "v": 0.294, "s": "I-Al"}, {"t": 2000, "v": 0.292, "s": "I-Al"},
      {"t": 2040, "v": 0.288, "s": "I-Al"}, {"t": 2070, "v": 0.286, "s": "I-Al"}, {"t": 2100, "v": 0.287, "s": "I-Al"},
      {"t": 2145, "v": 0.283, "s": "I-Al"}, {"t": 2200, "v": 0.282, "s": "I-Al"}, {"t": 2250, "v": 0.280, "s": "I-Al"},
      {"t": 2290, "v": 0.281, "s": "I-Al"}, {"t": 2340, "v": 0.279, "s": "I-Al"}, {"t": 2390, "v": 0.280, "s": "I-Al"},
      {"t": 2430, "v": 0.278, "s": "I-Al"}, {"t": 2480, "v": 0.277, "s": "I-Al"}, {"t": 2530, "v": 0.275, "s": "I-Al"},
      {"t": 2570, "v": 0.276, "s": "I-Al"}, {"t": 2610, "v": 0.273, "s": "I-Al"}, {"t": 2650, "v": 0.276, "s": "I-Al"},
      {"t": 2670, "v": 0.281, "s": "I-Al"}, {"t": 2690, "v": 0.275, "s": "I-Al"}, {"t": 2717, "v": 0.271, "s": "I-Al"},
      {"t": 2760, "v": 0.272, "s": "I-Al"}, {"t": 2800, "v": 0.270, "s": "I-Al"}, {"t": 2860, "v": 0.268, "s": "I-Al"},
      {"t": 2900, "v": 0.263, "s": "I-Al"}, {"t": 2940, "v": 0.266, "s": "I-Al"}, {"t": 3000, "v": 0.268, "s": "I-Al"},
      {"t": 3050, "v": 0.266, "s": "I-Al"}, {"t": 3100, "v": 0.264, "s": "I-Al"}, {"t": 3145, "v": 0.265, "s": "I-Al"},
      {"t": 3200, "v": 0.264, "s": "I-Al"}, {"t": 3250, "v": 0.267, "s": "I-Al"}, {"t": 3290, "v": 0.270, "s": "I-Al"},
      {"t": 3330, "v": 0.268, "s": "I-Al"}, {"t": 3380, "v": 0.270, "s": "I-Al"}, {"t": 3430, "v": 0.269, "s": "I-Al"},
      {"t": 3480, "v": 0.272, "s": "I-Al"}, {"t": 3520, "v": 0.276, "s": "I-Al"}, {"t": 3550, "v": 0.271, "s": "I-Al"},
      {"t": 3590, "v": 0.268, "s": "I-Al"}
    ],
    "cofNotes": [
      {"t": 3590, "v": 0.422, "label": "I-Mo"},
      {"t": 3590, "v": 0.368, "label": "I-O"},
      {"t": 3590, "v": 0.316, "label": "304SS"},
      {"t": 3590, "v": 0.238, "label": "I-Al"}
    ]
  },
  "hconcat": [
    {
      "width": 420, "height": 343,
      "title": {"text": "（a）开路电位"},
      "encoding": {
        "x": {"field": "t", "type": "quantitative", "title": "Time/s",
              "scale": {"domain": [0, 5400], "nice": false, "zero": false},
              "axis": {"values": [0, 600, 1200, 1800, 2400, 3000, 3600, 4200, 4800, 5400],
                       "labelExpr": "replace(format(datum.value, ','), ',', ' ')"}},
        "y": {"field": "v", "type": "quantitative", "title": "E/V",
              "scale": {"domain": [-0.6, -0.1], "nice": false, "zero": false},
              "axis": {"values": [-0.6, -0.55, -0.5, -0.45, -0.4, -0.35, -0.3, -0.25, -0.2, -0.15, -0.1],
                       "format": ".2f", "titleFontStyle": "italic", "titlePadding": 4}}
      },
      "layer": [
        {
          "data": {"name": "ocp"},
          "mark": {"type": "line", "strokeWidth": 1.7, "clip": true},
          "encoding": {
            "color": {"field": "s", "type": "nominal", "legend": null,
                      "scale": {"domain": ["304SS", "I-O", "I-Al", "I-Mo"], "range": ["#2e2e2e", "#e23b3b", "#2d5fae", "#3f9e5a"]}}
          }
        },
        {
          "data": {"name": "ocpSegs"},
          "mark": {"type": "rule", "color": "#222", "strokeWidth": 1},
          "encoding": {
            "x2": {"field": "t2"}, "y2": {"field": "v2"},
            "strokeDash": {"field": "kind", "type": "nominal", "legend": null,
                           "scale": {"domain": ["guide", "span"], "range": [[4, 3], [1, 0]]}}
          }
        },
        {
          "data": {"name": "ocpLeads"},
          "mark": {"type": "rule", "strokeWidth": 1},
          "encoding": {
            "x2": {"field": "t2"}, "y2": {"field": "v2"},
            "color": {"field": "s", "type": "nominal", "legend": null,
                      "scale": {"domain": ["period", "304SS", "I-O", "I-Mo"], "range": ["#222222", "#222222", "#e23b3b", "#1e7f78"]}}
          }
        },
        {
          "data": {"name": "ocpLeads"},
          "mark": {"type": "point", "shape": "wedge", "filled": true, "size": 60, "angle": 210, "opacity": 1},
          "encoding": {
            "color": {"field": "s", "type": "nominal", "legend": null,
                      "scale": {"domain": ["period", "304SS", "I-O", "I-Mo"], "range": ["#222222", "#222222", "#e23b3b", "#1e7f78"]}}
          }
        },
        {
          "data": {"name": "ocpEnds"},
          "transform": [{"filter": "datum.dir === 'left'"}],
          "mark": {"type": "point", "shape": "triangle-left", "filled": true, "size": 45, "color": "#222", "opacity": 1, "xOffset": 4}
        },
        {
          "data": {"name": "ocpEnds"},
          "transform": [{"filter": "datum.dir === 'right'"}],
          "mark": {"type": "point", "shape": "triangle-right", "filled": true, "size": 45, "color": "#222", "opacity": 1, "xOffset": -4}
        },
        {
          "data": {"name": "ocpNotes"},
          "mark": {"type": "text", "align": "center", "baseline": "middle"},
          "encoding": {"text": {"field": "label"}}
        }
      ],
      "resolve": {"scale": {"color": "independent"}}
    },
    {
      "width": 420, "height": 343,
      "title": {"text": "（b）摩擦系数"},
      "encoding": {
        "x": {"field": "t", "type": "quantitative", "title": "Time/s",
              "scale": {"domain": [0, 3600], "nice": false, "zero": false},
              "axis": {"values": [0, 600, 1200, 1800, 2400, 3000, 3600],
                       "labelExpr": "replace(format(datum.value, ','), ',', ' ')"}},
        "y": {"field": "v", "type": "quantitative", "title": "Coefficient of friction",
              "scale": {"domain": [0, 0.5], "nice": false},
              "axis": {"values": [0.05, 0.1, 0.15, 0.2, 0.25, 0.3, 0.35, 0.4, 0.45, 0.5],
                       "format": ".2f", "titlePadding": 8}}
      },
      "layer": [
        {
          "data": {"name": "cof"},
          "mark": {"type": "line", "strokeWidth": 1.8, "clip": true},
          "encoding": {
            "color": {"field": "s", "type": "nominal", "legend": null,
                      "scale": {"domain": ["304SS", "I-O", "I-Al", "I-Mo"], "range": ["#2e2e2e", "#e23b3b", "#2d5fae", "#3f9e5a"]}}
          }
        },
        {
          "data": {"name": "cofNotes"},
          "mark": {"type": "text", "align": "right", "baseline": "middle"},
          "encoding": {"text": {"field": "label"}}
        }
      ]
    }
  ]
}
